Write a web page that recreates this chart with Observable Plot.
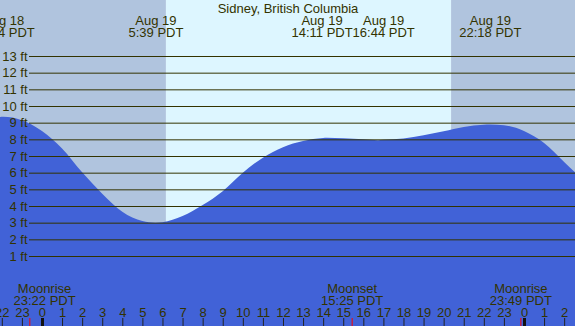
<!DOCTYPE html>
<html><head><meta charset="utf-8">
<script src="https://cdn.jsdelivr.net/npm/d3@7"></script>
<script src="https://cdn.jsdelivr.net/npm/@observablehq/plot@0.6"></script>
<style>html,body{margin:0;padding:0;background:#fff;} svg{display:block}</style>
</head><body><div id="chart"></div>
<script>
// ---- data (hours relative to Aug 19 00:00 PDT) ----
const title = "Sidney, British Columbia";
const tideHours = [-2.09,-1.93,-1,0,1,2,3,4,5,5.65,6,7,8,9,10,11,12,13,14,14.18,15,16,16.73,17,18,19,20,21,22,22.3,23,24,25,26,26.54];
const tideFeet  = [9.34,9.35,9.15,8.5,7.45,6.02,4.74,3.66,3.1,3.0,3.03,3.4,4.06,4.89,6.0,6.9,7.53,7.9,8.08,8.09,8.06,8.0,7.95,7.97,8.05,8.24,8.48,8.74,8.87,8.89,8.85,8.5,7.78,6.64,6.02];
const tideEventHours  = [-1.93, 5.65, 14.18, 16.73, 22.3];
const tideEventLabels = ["Aug 18\n22:04 PDT", "Aug 19\n5:39 PDT", "Aug 19\n14:11 PDT", "Aug 19\n16:44 PDT", "Aug 19\n22:18 PDT"];
const moonEventHours  = [-0.63, 15.42, 23.82];
const moonEventLabels = ["Moonrise\n23:22 PDT", "Moonset\n15:25 PDT", "Moonrise\n23:49 PDT"];
const sunriseHour = 6.17;
const sunsetHour = 20.37;
const ftTicks = [1,2,3,4,5,6,7,8,9,10,11,12,13];
const hourTicks = [-2,-1,0,1,2,3,4,5,6,7,8,9,10,11,12,13,14,15,16,17,18,19,20,21,22,23,24,25,26];
const midnightHours = [0, 24];

// ---- layout ----
const W = 575, H = 326;
const xDomain = [-2.09, 26.54];
const yDomain = [-3.2, 16.36];
const ink = "#333300";
const font = "'Liberation Sans', Arial, sans-serif";
const FS = 13;
const LH = 12 / 13;
const xs = d3.scaleLinear(xDomain, [0, W]);
const gridStart = xs.invert(29);

const ctx = document.createElement("canvas").getContext("2d");
ctx.font = FS + "px " + font;
const labelWidth = s => Math.max(...s.split("\n").map(l => ctx.measureText(l).width));
function spread(hours, labels, minLeft) {
  const px = hours.map(h => xs(h));
  const w = labels.map(labelWidth);
  for (let i = 1; i < px.length; i++) {
    const need = (w[i - 1] + w[i]) / 2, gap = px[i] - px[i - 1];
    if (gap < need) { const o = need - gap; px[i - 1] -= o / 2; px[i] += o / 2; }
  }
  return px.map((p, i) => xs.invert(minLeft == null ? p : Math.max(p, w[i] / 2 + minLeft)));
}
const tideLabelX = spread(tideEventHours, tideEventLabels, null);
const moonLabelX = spread(moonEventHours, moonEventLabels, 13);

const tide = tideHours.map((h, i) => ({h, ft: tideFeet[i]}));
const nights = [[xDomain[0], sunriseHour], [sunsetHour, xDomain[1]]];
const txt = {fill: ink, fontSize: FS, fontFamily: font};

const chart = Plot.plot({
  width: W, height: H, margin: 0,
  x: {domain: xDomain, axis: null},
  y: {domain: yDomain, axis: null},
  style: {fontFamily: font, fontSize: FS + "px", background: "#fff"},
  marks: [
    Plot.rect([[sunriseHour, sunsetHour]], {x1: d => d[0], x2: d => d[1], y1: () => yDomain[0], y2: () => yDomain[1], fill: "#ddf6ff"}),
    Plot.rect(nights, {x1: d => d[0], x2: d => d[1], y1: () => yDomain[0], y2: () => yDomain[1], fill: "#b0c4de"}),
    Plot.areaY(tide, {x: "h", y1: () => yDomain[0], y2: "ft", fill: "#4162d7", curve: "monotone-x"}),
    Plot.ruleY(ftTicks, {y: d => d, x1: () => gridStart, x2: () => xDomain[1], stroke: ink, strokeWidth: 1}),
    Plot.text(ftTicks, {y: d => d, text: d => `${d} ft`, frameAnchor: "left", dx: 27, textAnchor: "end", ...txt}),
    Plot.text([title], {text: d => d, frameAnchor: "top", lineAnchor: "bottom", dy: 12, ...txt}),
    Plot.text(tideEventLabels, {x: (d, i) => tideLabelX[i], text: d => d, frameAnchor: "top", lineAnchor: "bottom", lineHeight: LH, dy: 36, ...txt}),
    Plot.text(moonEventLabels, {x: (d, i) => moonLabelX[i], text: d => d, frameAnchor: "bottom", lineAnchor: "bottom", lineHeight: LH, dy: -22, ...txt}),
    Plot.text(hourTicks, {x: d => d, text: d => String((d + 24) % 24), frameAnchor: "bottom", lineAnchor: "bottom", dy: -10, ...txt}),
    Plot.ruleX(hourTicks, {x: d => d, insetTop: 318, stroke: "#222", strokeWidth: 1}),
    Plot.ruleX(moonEventHours, {x: d => d, insetTop: 318, stroke: "red", strokeWidth: 1}),
    Plot.ruleX(midnightHours, {x: d => d, insetTop: 318, stroke: "#111", strokeWidth: 3})
  ]
});
document.getElementById("chart").appendChild(chart);
</script>
</body></html>
